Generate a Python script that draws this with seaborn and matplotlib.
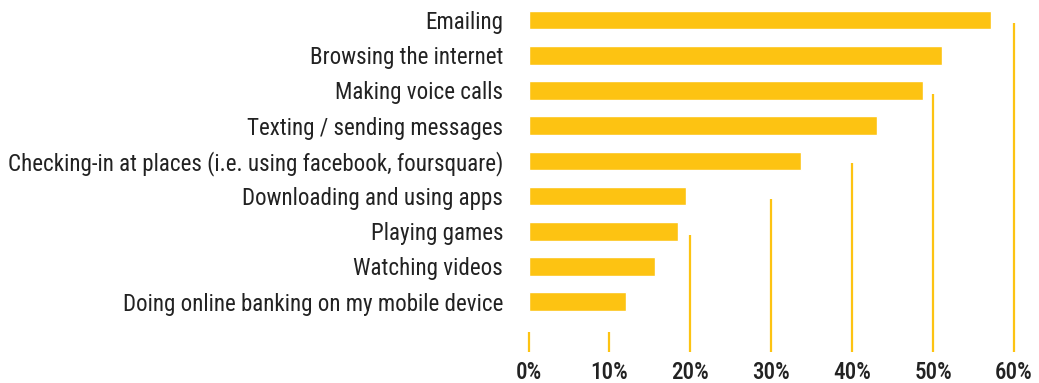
import matplotlib
matplotlib.use("Agg")
import matplotlib.pyplot as plt
import seaborn as sns
import pandas as pd

# Share of respondents using their phone for each activity (%)
activities = [
    "Emailing",
    "Browsing the internet",
    "Making voice calls",
    "Texting / sending messages",
    "Checking-in at places (i.e. using facebook, foursquare)",
    "Downloading and using apps",
    "Playing games",
    "Watching videos",
    "Doing online banking on my mobile device",
]
shares = [57.2, 51.1, 48.7, 43.0, 33.7, 19.5, 18.5, 15.6, 12.0]

tick_values = [0, 10, 20, 30, 40, 50, 60]
tick_labels = ["0%", "10%", "20%", "30%", "40%", "50%", "60%"]

df = pd.DataFrame({"activity": activities, "share": shares})

sns.set_theme(style="white")
plt.rcParams["font.family"] = ["Roboto Condensed", "Archivo Narrow",
                               "Liberation Sans Narrow", "Roboto", "DejaVu Sans"]

GOLD = "#FDC312"
TEXT = "#222222"

fig = plt.figure(figsize=(10.39, 3.83), dpi=100)
ax = fig.add_axes([0.5009, 0.0655, 0.4907, 0.9325])

sns.barplot(data=df, x="share", y="activity", orient="h", color=GOLD,
            saturation=1, width=0.53, ax=ax, zorder=2)

# Vertical guide lines rising from the baseline, each stopping at its own height
guide_tops = [8.86, 8.86, 6.12, 5.09, 4.06, 2.09, 0.07]
for xv, top in zip(tick_values, guide_tops):
    ax.vlines(xv, ymin=9.43, ymax=top, color=GOLD, linewidth=1.6, zorder=1)

ax.set_xlim(-1, 62)
ax.set_ylim(9.6, -0.55)
ax.set_xticks(tick_values)
ax.set_xticklabels(tick_labels)
ax.set_xlabel("")
ax.set_ylabel("")
ax.tick_params(axis="both", length=0, colors=TEXT, labelsize=16.6)
ax.tick_params(axis="y", pad=12.5)
ax.tick_params(axis="x", pad=2)
for lbl in ax.get_xticklabels():
    lbl.set_fontweight("medium")
for s in ax.spines.values():
    s.set_visible(False)
ax.grid(False)

fig.savefig("out.png", dpi=100, facecolor="white")
